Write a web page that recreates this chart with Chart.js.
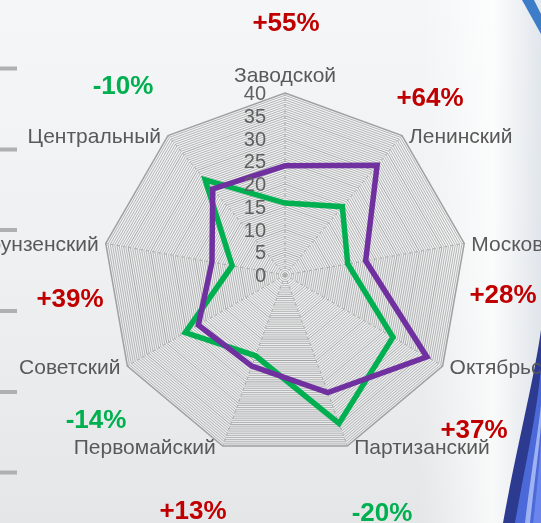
<!DOCTYPE html>
<html>
<head>
<meta charset="utf-8">
<script src="https://cdn.jsdelivr.net/npm/chart.js@4.4.1/dist/chart.umd.min.js"></script>
<style>
  html, body { margin:0; padding:0; width:541px; height:523px; overflow:hidden; }
  body { position:relative; background: linear-gradient(to bottom, #f4f6f7 0%, #eef0f1 50%, #e4e6e8 100%); font-family:"Liberation Sans", Arial, sans-serif; }
  #bg { position:absolute; left:0; top:0; }
  #wrap { position:absolute; left:0; top:0; width:541px; height:523px; }
  .pct { position:absolute; font-weight:bold; font-size:26px; transform:translate(-50%,-50%); white-space:nowrap; line-height:1; }
</style>
</head>
<body>
<svg id="bg" width="541" height="523" viewBox="0 0 541 523">
  <defs>
    <linearGradient id="streak" x1="0" y1="0" x2="1" y2="0">
      <stop offset="0" stop-color="#ffffff" stop-opacity="0"/>
      <stop offset="0.6" stop-color="#ffffff" stop-opacity="0.75"/>
      <stop offset="1" stop-color="#dde3ea" stop-opacity="0.8"/>
    </linearGradient>
  </defs>
  <rect x="420" y="0" width="121" height="523" fill="url(#streak)"/>
  <g fill="#aeb0b2">
    <rect x="0" y="66.5" width="17" height="4"/>
    <rect x="0" y="147.5" width="17" height="4"/>
    <rect x="0" y="228" width="17" height="4"/>
    <rect x="0" y="309" width="17" height="4"/>
    <rect x="0" y="390" width="17" height="4"/>
    <rect x="0" y="470.5" width="17" height="4"/>
  </g>
  <polygon points="522,0 534,0 541,14 541,34" fill="#3c7cc9"/>
  <path d="M541,330 C534,380 516,450 503,523 L541,523 Z" fill="#2c3a8f"/>
  <path d="M541,368 C536,420 524,470 515,523 L541,523 Z" fill="#4b69d8"/>
  <path d="M541,405 C537,440 530,480 525,523 L530,523 C534,485 539,450 541,425 Z" fill="#9fb3f2"/>
  <path d="M541,440 C539,470 536,500 533,523 L541,523 Z" fill="#6a86ee"/>
</svg>
<div id="wrap"><canvas id="c" width="541" height="523"></canvas></div>
<script>
const categories = ['Заводской','Ленинский','Московский','Октябрьский','Партизанский','Первомайский','Советский','Фрунзенский','Центральный'];
const seriesPurple = [24, 31.5, 18, 36, 27.5, 21.3, 22, 16.3, 24.7];
const seriesGreen = [15.8, 19.6, 14, 27.4, 34.7, 18.9, 25.3, 11.8, 27.3];
const tickValues = [0, 5, 10, 15, 20, 25, 30, 35, 40];
const changeLabels = ['+55%','+64%','+28%','+37%','-20%','+13%','-14%','+39%','-10%'];

// layout (positions of the change labels, px)
const changePos = [[286,22],[430,97],[503,294],[474,429],[382,512],[193,510],[96,419],[70,298],[123,85]];

changeLabels.forEach((t, i) => {
  const d = document.createElement('div');
  d.className = 'pct';
  d.textContent = t;
  d.style.color = t.startsWith('+') ? '#c00000' : '#00b050';
  d.style.left = changePos[i][0] + 'px';
  d.style.top = changePos[i][1] + 'px';
  document.body.appendChild(d);
});

const labelPlugin = {
  id: 'labels',
  afterDatasetsDraw(chart) {
    const s = chart.scales.r;
    const ctx = chart.ctx;
    ctx.save();
    // tick labels
    ctx.font = '20px "Liberation Sans", Arial, sans-serif';
    ctx.fillStyle = '#606060';
    ctx.textAlign = 'right';
    ctx.textBaseline = 'middle';
    tickValues.forEach(v => {
      const y = s.yCenter - s.getDistanceFromCenterForValue(v);
      ctx.fillText(String(v), s.xCenter - 19, y + 1.5);
    });
    // category labels
    ctx.font = '21px "Liberation Sans", Arial, sans-serif';
    ctx.fillStyle = '#595959';
    categories.forEach((c, i) => {
      const p = s.getPointPosition(i, s.drawingArea);
      if (i === 0) {
        ctx.textAlign = 'center';
        ctx.fillText(c, p.x, p.y - 17);
      } else if (p.x > s.xCenter) {
        ctx.textAlign = 'left';
        ctx.fillText(c, p.x + 7, p.y + 2);
      } else {
        ctx.textAlign = 'right';
        ctx.fillText(c, p.x - 7, p.y + 2);
      }
    });
    ctx.restore();
  }
};

new Chart(document.getElementById('c'), {
  type: 'radar',
  data: {
    labels: categories,
    datasets: [
      { data: seriesPurple, borderColor: '#7030a0', borderWidth: 5.5, pointRadius: 0, fill: false, tension: 0, borderJoinStyle: 'miter' },
      { data: seriesGreen, borderColor: '#00b050', borderWidth: 5.5, pointRadius: 0, fill: false, tension: 0, borderJoinStyle: 'miter' }
    ]
  },
  options: {
    responsive: false,
    animation: false,
    layout: { padding: { left: 103, right: 74, top: 93, bottom: 66 } },
    plugins: { legend: { display: false }, tooltip: { enabled: false } },
    scales: {
      r: {
        min: 0, max: 40,
        ticks: { display: false, stepSize: 0.5 },
        grid: { color: (c) => (c.tick && c.tick.value === 40) ? '#a0a0a0' : ((c.tick && c.tick.value % 5 === 0) ? '#a4a4a4' : '#b4b4b4'), lineWidth: (c) => (c.tick && c.tick.value === 40) ? 1.5 : 1 },
        angleLines: { color: '#a8a8a8', borderDash: [3, 3], lineWidth: 1 },
        pointLabels: { display: false }
      }
    }
  },
  plugins: [labelPlugin]
});
</script>
</body>
</html>
